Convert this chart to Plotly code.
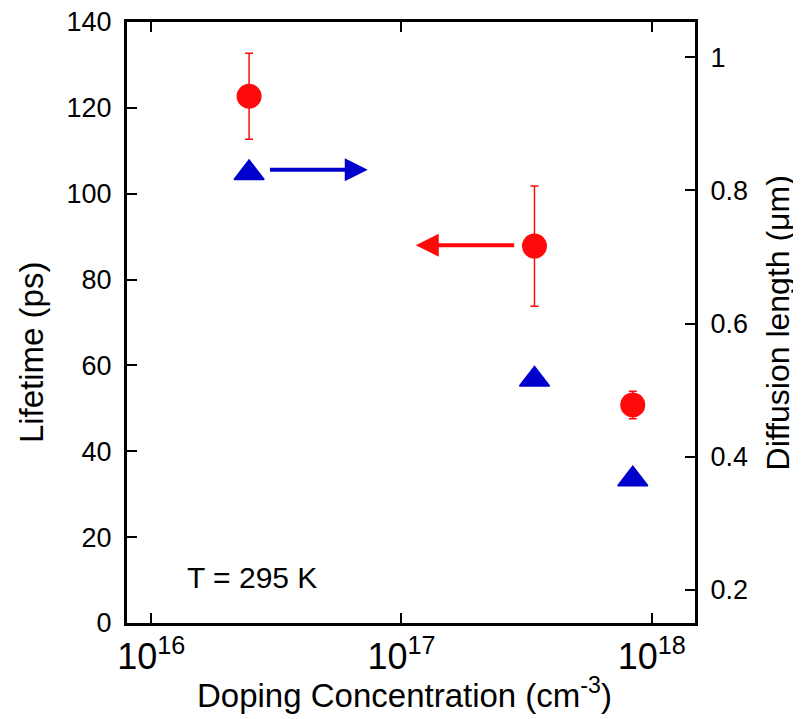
import numpy as np
import plotly.graph_objects as go

# doping concentration (cm^-3)
doping = [2.46e16, 3.4e17, 8.4e17]

# lifetime (ps), left axis, with error bars
lifetime = [122.7, 87.8, 50.8]
lifetime_err = [10.0, 14.0, 3.2]

# diffusion length (um), right axis
diff_len = [0.826, 0.516, 0.366]

# arrows pointing to each series' axis: tail -> head
blue_arrow_x = [2.94e16, 7.33e16]
blue_arrow_y = 0.831
red_arrow_x = [2.86e17, 1.14e17]
red_arrow_y = 88.0

red = 'rgb(255,10,10)'
blue = 'rgb(0,0,204)'
font = 'Liberation Sans, Arial, sans-serif'

fig = go.Figure()

fig.add_trace(go.Scatter(
    x=doping, y=lifetime, mode='markers',
    marker=dict(symbol='circle', size=25, color=red),
    error_y=dict(type='data', array=lifetime_err, color=red, thickness=1.5, width=4),
    yaxis='y', showlegend=False))

fig.add_trace(go.Scatter(
    x=doping, y=diff_len, mode='markers',
    marker=dict(symbol='triangle-up', size=26, color=blue, line=dict(color=blue, width=1.5)),
    yaxis='y2', showlegend=False))

fig.add_annotation(
    x=np.log10(blue_arrow_x[1]), y=blue_arrow_y, xref='x', yref='y2',
    ax=np.log10(blue_arrow_x[0]), ay=blue_arrow_y, axref='x', ayref='y2',
    showarrow=True, arrowhead=2, arrowsize=1.15, arrowwidth=4, arrowcolor=blue, text='')

fig.add_annotation(
    x=np.log10(red_arrow_x[1]), y=red_arrow_y, xref='x', yref='y',
    ax=np.log10(red_arrow_x[0]), ay=red_arrow_y, axref='x', ayref='y',
    showarrow=True, arrowhead=2, arrowsize=1.15, arrowwidth=4, arrowcolor=red, text='')

fig.add_annotation(
    x=0.22, y=0.0765, xref='paper', yref='paper', text='T = 295 K',
    xanchor='center', yanchor='middle',
    showarrow=False, font=dict(size=30, color='black', family=font))

# axis titles as annotations so they sit where the reference has them
fig.add_annotation(
    x=0.489, y=-0.1165, xref='paper', yref='paper',
    text='Doping Concentration (cm<sup>-3</sup>)', xanchor='center', yanchor='middle',
    showarrow=False, font=dict(size=33, color='black', family=font))
fig.add_annotation(
    x=-0.167, y=0.451, xref='paper', yref='paper', text='Lifetime (ps)',
    textangle=-90, xanchor='center', yanchor='middle',
    showarrow=False, font=dict(size=33, color='black', family=font))
fig.add_annotation(
    x=1.146, y=0.50, xref='paper', yref='paper', text='Diffusion length (μm)',
    textangle=-90, xanchor='center', yanchor='middle',
    showarrow=False, font=dict(size=32, color='black', family=font))

axis_common = dict(showline=True, linewidth=3, linecolor='black',
                   ticks='inside', ticklen=10, tickwidth=1.5, tickcolor='black',
                   showgrid=False, zeroline=False, automargin=False,
                   ticklabeloverflow='allow')

# page body adds an 8px offset, so the figure is 8px smaller and margins shifted
fig.update_layout(
    width=793, height=711,
    margin=dict(l=119, r=106, t=14, b=96),
    paper_bgcolor='white', plot_bgcolor='white',
    font=dict(family=font, color='black'),
    xaxis=dict(type='log', range=[15.903, 18.173], mirror='ticks',
               tickvals=[1e16, 1e17, 1e18],
               ticktext=['10<sup>16</sup>', '10<sup>17</sup>', '10<sup>18</sup>'],
               tickfont=dict(size=36), ticklabelstandoff=0,
               **axis_common),
    yaxis=dict(range=[0, 140], tickvals=[0, 20, 40, 60, 80, 100, 120, 140],
               tickfont=dict(size=27), ticklabelstandoff=7,
               **axis_common),
    yaxis2=dict(overlaying='y', side='right', range=[0.150, 1.053],
                tickvals=[0.2, 0.4, 0.6, 0.8, 1.0], ticktext=['0.2', '0.4', '0.6', '0.8', '1'],
                tickfont=dict(size=27), ticklabelstandoff=7,
                **axis_common),
)

fig.write_html("out.html")
